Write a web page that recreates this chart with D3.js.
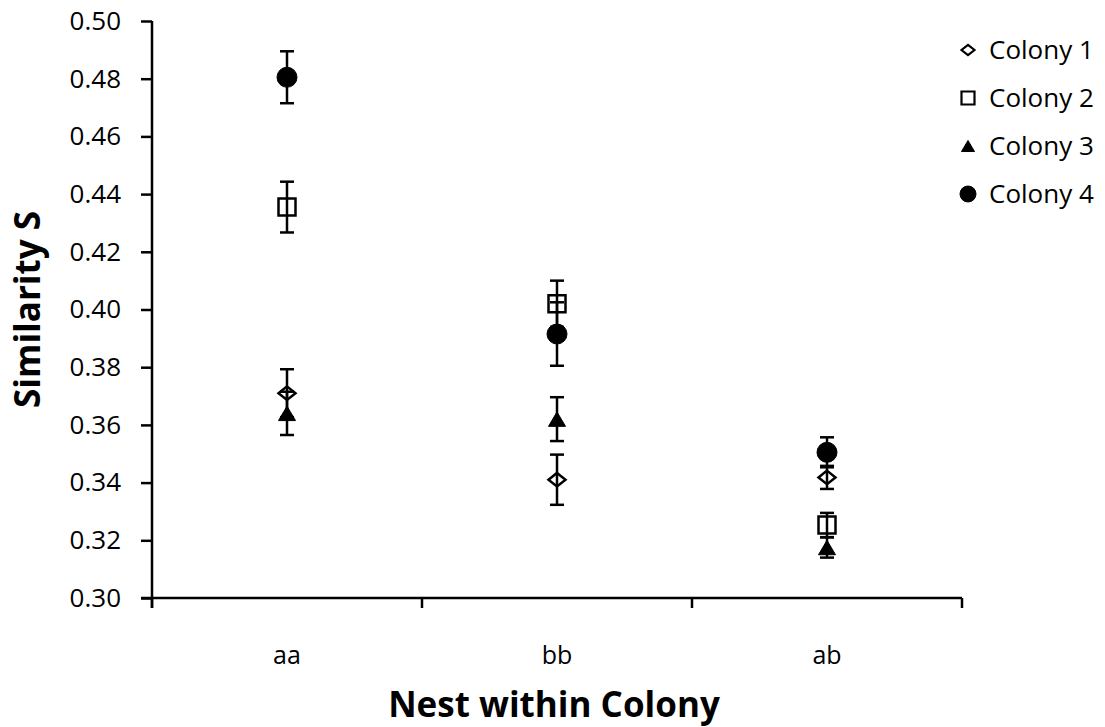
<!DOCTYPE html>
<html>
<head>
<meta charset="utf-8">
<script src="https://cdn.jsdelivr.net/npm/d3@7"></script>
<style>
  body { margin: 0; background: #fff; }
  text { font-family: "Open Sans", sans-serif; fill: #000; }
</style>
</head>
<body>
<script>
// nest categories and colony series
var categories = ["aa", "bb", "ab"];
var colonies = ["Colony 1", "Colony 2", "Colony 3", "Colony 4"];
var shapes = ["diamond", "square", "triangle", "circle"];

// mean similarity per category (aa, bb, ab)
var colony1 = [0.371, 0.341, 0.3418];
var colony2 = [0.4355, 0.402, 0.3253];
var colony3 = [0.364, 0.362, 0.3175];
var colony4 = [0.4805, 0.3915, 0.3505];

// error bar half-widths
var err1 = [0.0083, 0.0087, 0.004];
var err2 = [0.0088, 0.008, 0.0042];
var err3 = [0.0075, 0.0076, 0.0035];
var err4 = [0.009, 0.011, 0.0052];

var yTicks = [0.30, 0.32, 0.34, 0.36, 0.38, 0.40, 0.42, 0.44, 0.46, 0.48, 0.50];

var width = 1105, height = 727;

var svg = d3.select("body").append("svg")
    .attr("width", width)
    .attr("height", height);

var x = d3.scaleBand().domain(categories).range([152, 962]);
var y = d3.scaleLinear().domain([0.30, 0.50]).range([598, 21]);

// y axis
var yAxis = svg.append("g")
    .attr("transform", "translate(152,0)")
    .call(d3.axisLeft(y).tickValues(yTicks).tickFormat(d3.format(".2f")).tickSize(11).tickPadding(20));
yAxis.select(".domain").attr("stroke-width", 2.5).attr("d", "M0," + y(0.50) + "V" + (y(0.30) + 10));
yAxis.selectAll(".tick line").attr("stroke-width", 2.5);
yAxis.selectAll(".tick text").style("font-size", "26px").style("font-family", "Open Sans");

// x axis
var xAxis = svg.append("g")
    .attr("transform", "translate(0,598)")
    .call(d3.axisBottom(x).tickSize(0).tickPadding(48));
xAxis.select(".domain").attr("stroke-width", 2.5).attr("d", "M141,0H962");
xAxis.selectAll(".tick text").style("font-size", "25px").style("font-family", "Open Sans");
// boundary ticks between the bands
xAxis.selectAll(".sep")
    .data([categories[0]].concat(categories))
    .enter().append("line")
    .attr("class", "sep")
    .attr("x1", function(d, i) { return i == 0 ? x.range()[0] : x(d) + x.bandwidth(); })
    .attr("x2", function(d, i) { return i == 0 ? x.range()[0] : x(d) + x.bandwidth(); })
    .attr("y1", 0).attr("y2", 10)
    .attr("stroke", "#000").attr("stroke-width", 2.5);

// axis titles
svg.append("text")
    .attr("x", 554).attr("y", 717)
    .attr("text-anchor", "middle")
    .style("font-size", "35px").style("font-weight", "bold")
    .text("Nest within Colony");

svg.append("text")
    .attr("transform", "translate(40," + ((y(0.30) + y(0.50)) / 2) + ") rotate(-90)")
    .attr("text-anchor", "middle")
    .style("font-size", "35px").style("font-weight", "bold")
    .text("Similarity S");

function shapePath(shape, s) {
    var h = s / 2;
    if (shape == "diamond") return "M0," + (-h * 0.8) + "L" + h + ",0L0," + (h * 0.8) + "L" + (-h) + ",0Z";
    if (shape == "square") return "M" + (-h) + "," + (-h) + "H" + h + "V" + h + "H" + (-h) + "Z";
    if (shape == "triangle") return "M0," + (-h * 0.85) + "L" + h + "," + (h * 0.85) + "H" + (-h) + "Z";
    return d3.symbol().type(d3.symbolCircle).size(Math.PI * h * h)();
}

var series = [
    {name: colonies[0], shape: shapes[0], values: colony1, errors: err1, size: 17},
    {name: colonies[1], shape: shapes[1], values: colony2, errors: err2, size: 17},
    {name: colonies[2], shape: shapes[2], values: colony3, errors: err3, size: 17},
    {name: colonies[3], shape: shapes[3], values: colony4, errors: err4, size: 20}
];

var cx = function(i) { return x(categories[i]) + x.bandwidth() / 2; };

var groups = svg.selectAll(".series")
    .data(series)
    .enter().append("g")
    .attr("class", "series");

// error bars first, markers on top
groups.each(function(s) {
    var g = d3.select(this);
    s.values.forEach(function(v, i) {
        var e = s.errors[i];
        g.append("line")
            .attr("x1", cx(i)).attr("x2", cx(i))
            .attr("y1", y(v + e)).attr("y2", y(v - e))
            .attr("stroke", "#000").attr("stroke-width", 2.5);
        [v + e, v - e].forEach(function(yy) {
            g.append("line")
                .attr("x1", cx(i) - 7).attr("x2", cx(i) + 7)
                .attr("y1", y(yy)).attr("y2", y(yy))
                .attr("stroke", "#000").attr("stroke-width", 2.5);
        });
    });
});

groups.each(function(s) {
    var g = d3.select(this);
    var filled = s.shape == "triangle" || s.shape == "circle";
    s.values.forEach(function(v, i) {
        g.append("path")
            .attr("d", shapePath(s.shape, s.size))
            .attr("transform", "translate(" + cx(i) + "," + y(v) + ")")
            .attr("fill", filled ? "#000" : "none")
            .attr("stroke", "#000")
            .attr("stroke-width", filled ? 1 : 2.5);
    });
});

// legend
var legend = svg.append("g").selectAll("g")
    .data(series)
    .enter().append("g")
    .attr("transform", function(d, i) { return "translate(968," + (50 + i * 48) + ")"; });

legend.append("path")
    .attr("d", function(d) { return shapePath(d.shape, d.shape == "circle" ? 16 : 13); })
    .attr("fill", function(d) { return d.shape == "triangle" || d.shape == "circle" ? "#000" : "#fff"; })
    .attr("stroke", "#000")
    .attr("stroke-width", function(d) { return d.shape == "triangle" || d.shape == "circle" ? 1 : 2.2; });

legend.append("text")
    .attr("x", 21).attr("y", 9)
    .style("font-size", "26px")
    .text(function(d) { return d.name; });
</script>
</body>
</html>
